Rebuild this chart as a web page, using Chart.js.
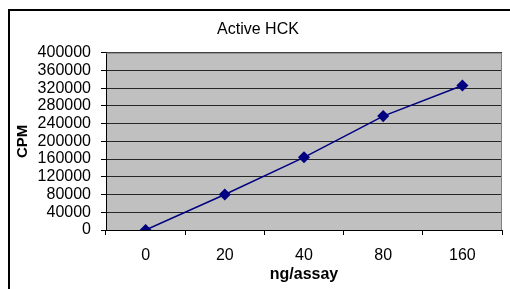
<!DOCTYPE html>
<html>
<head>
<meta charset="utf-8">
<script src="https://cdn.jsdelivr.net/npm/chart.js@4"></script>
<style>
  html, body { margin: 0; padding: 0; background: #fff; overflow: hidden; }
  #wrap { position: relative; width: 510px; height: 289px; }
  #frame { position: absolute; left: 8px; top: 9px; width: 600px; height: 400px; border: 2px solid #000; box-sizing: border-box; }
  #myChart { position: absolute; left: 0; top: 0; }
</style>
</head>
<body>
<div id="wrap">
  <div id="frame"></div>
  <canvas id="myChart" width="510" height="289"></canvas>
</div>
<script>
const doses = ['0', '20', '40', '80', '160'];
const cpm = [0, 80000, 164000, 257000, 326000];
const yTicks = [0, 40000, 80000, 120000, 160000, 200000, 240000, 280000, 320000, 360000, 400000];

const ctx = document.getElementById('myChart');

// grey plot area with a thin grey border on top and right
const plotBg = {
  id: 'plotBg',
  beforeDraw(chart) {
    const a = chart.chartArea;
    const c = chart.ctx;
    c.save();
    c.fillStyle = '#c0c0c0';
    c.fillRect(a.left, a.top, a.right - a.left, a.bottom - a.top);
    c.restore();
  },
  afterDatasetsDraw(chart) {
    const a = chart.chartArea;
    const c = chart.ctx;
    c.save();
    c.strokeStyle = '#808080';
    c.lineWidth = 1;
    c.beginPath();
    c.moveTo(a.left, a.top + 0.5);
    c.lineTo(a.right - 0.5, a.top + 0.5);
    c.lineTo(a.right - 0.5, a.bottom);
    c.stroke();
    c.restore();
  }
};

Chart.defaults.font.family = "'Liberation Sans', Arial, sans-serif";
Chart.defaults.color = '#000';

new Chart(ctx, {
  type: 'line',
  data: {
    labels: doses,
    datasets: [{
      label: 'CPM',
      data: cpm,
      borderColor: '#000080',
      backgroundColor: '#000080',
      borderWidth: 1.5,
      pointStyle: 'rectRot',
      pointRadius: 5,
      pointHoverRadius: 5,
      tension: 0
    }]
  },
  options: {
    responsive: false,
    animation: false,
    layout: { padding: { top: 10, left: 14, right: 8, bottom: 5 } },
    plugins: {
      legend: { display: false },
      tooltip: { enabled: false },
      title: {
        display: true,
        text: 'Active HCK',
        font: { size: 16, weight: 'normal' },
        padding: { top: 9.5, bottom: 14 }
      }
    },
    scales: {
      x: {
        offset: true,
        afterFit: scale => { scale.height = 54; },
        grid: {
          offset: true,
          drawOnChartArea: false,
          tickLength: 5,
          color: '#000'
        },
        border: { color: '#000' },
        ticks: { font: { size: 16 }, padding: 11, maxRotation: 0 },
        title: {
          display: true,
          text: 'ng/assay',
          font: { size: 16, weight: 'bold' },
          padding: { top: 0, bottom: 0 }
        }
      },
      y: {
        min: 0,
        max: 400000,
        afterBuildTicks: scale => { scale.ticks = yTicks.map(v => ({ value: v })); },
        afterFit: scale => { scale.width = 92; },
        grid: { color: '#262626', tickColor: '#000', tickLength: 5 },
        border: { color: '#000' },
        ticks: {
          font: { size: 16 },
          padding: 10,
          autoSkip: false,
          callback: v => String(v)
        },
        title: {
          display: true,
          text: 'CPM',
          font: { size: 15, weight: 'bold' },
          padding: { top: 0, bottom: 0 }
        }
      }
    }
  },
  plugins: [plotBg]
});
</script>
</body>
</html>
